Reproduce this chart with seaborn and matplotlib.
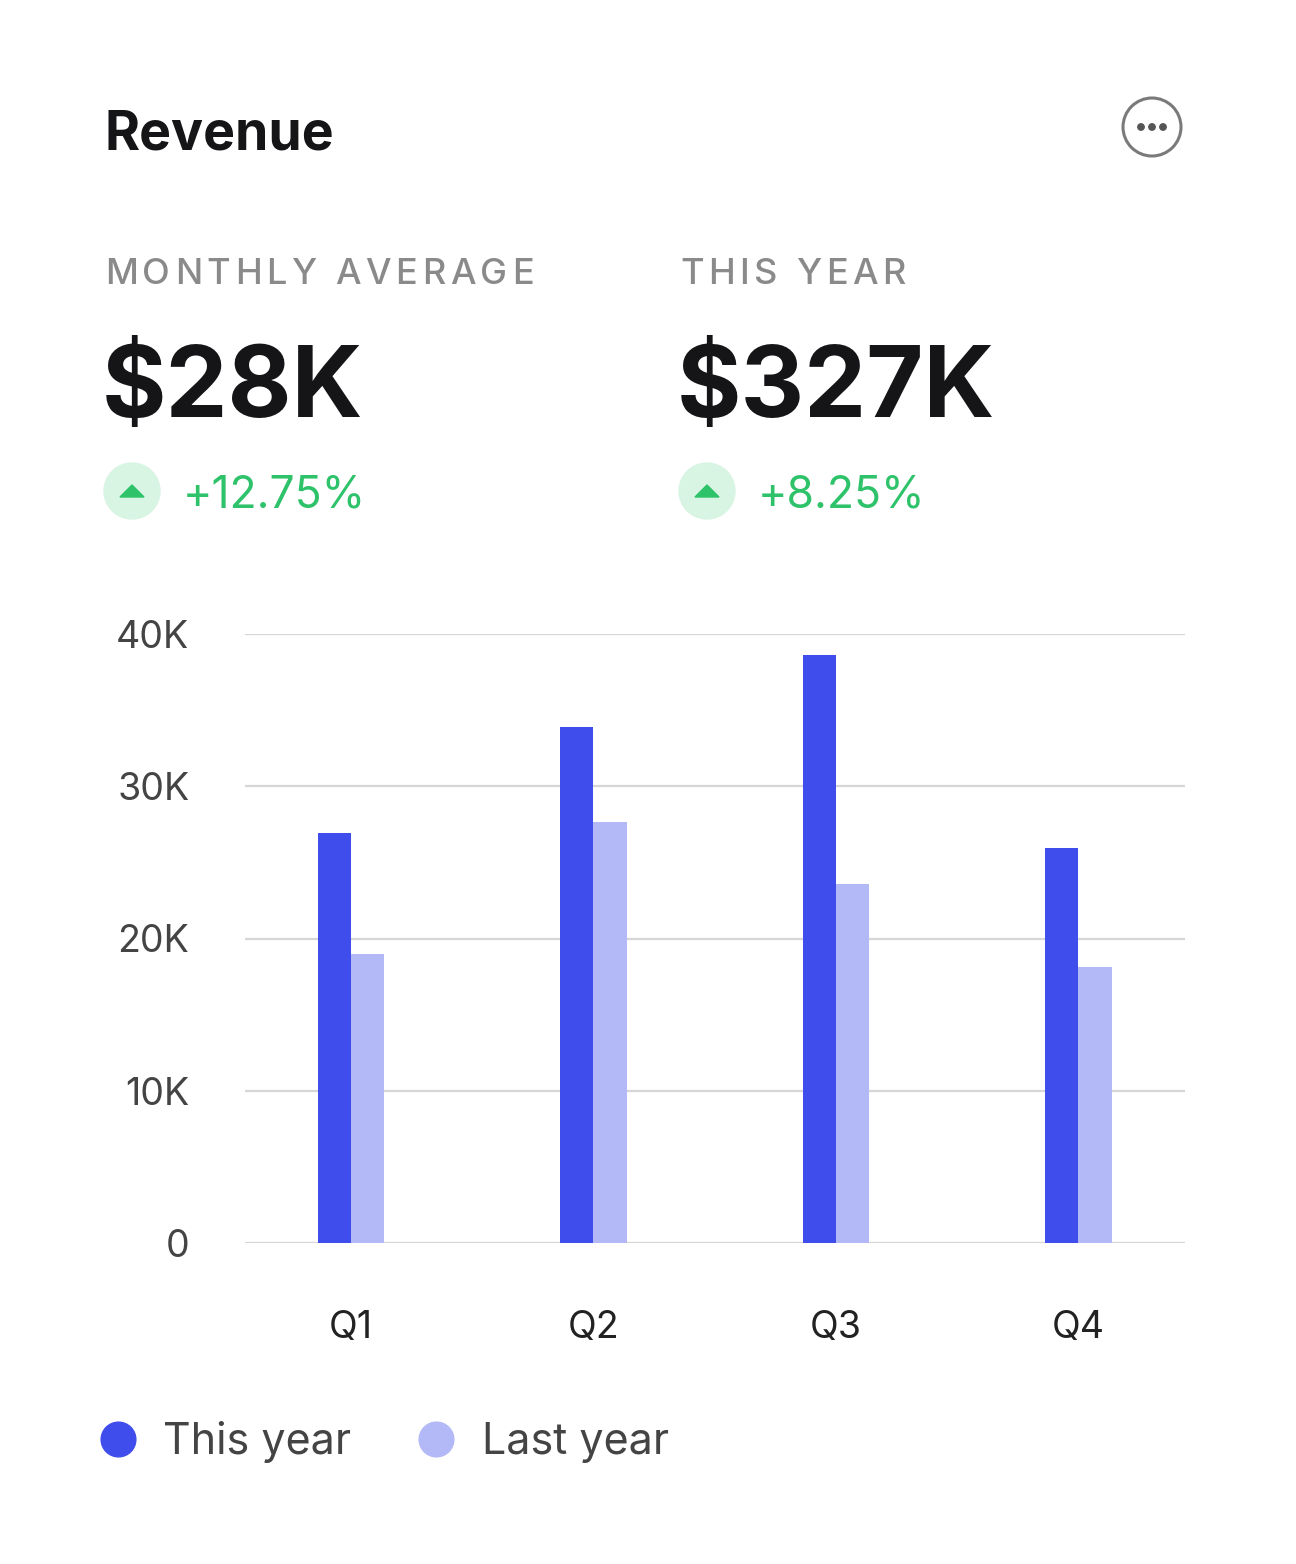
import matplotlib
matplotlib.use("Agg")
import matplotlib.pyplot as plt
from matplotlib.patches import Circle, Polygon
from matplotlib.lines import Line2D
import seaborn as sns
import pandas as pd

# data
quarters = ["Q1", "Q2", "Q3", "Q4"]
this_year = [26900, 33900, 38600, 25950]
last_year = [18950, 27650, 23600, 18100]
series_names = ["This year", "Last year"]
y_ticks = [0, 10000, 20000, 30000, 40000]
y_tick_labels = ["0", "10K", "20K", "30K", "40K"]

DARK = "#3f4ded"
LIGHT = "#b3b8f7"
GREEN = "#2ec26a"

df = pd.DataFrame({
    "Quarter": quarters * 2,
    "Revenue": this_year + last_year,
    "Series": [series_names[0]] * 4 + [series_names[1]] * 4,
})

sns.set_theme(style="white")
plt.rcParams["font.family"] = ["Inter", "DejaVu Sans"]

W, H = 1296, 1564
fig = plt.figure(figsize=(W / 100, H / 100), dpi=100)
renderer = fig.canvas.get_renderer()

# overlay in pixel coordinates for the card header
bg = fig.add_axes([0, 0, 1, 1])
bg.set_xlim(0, W)
bg.set_ylim(H, 0)
bg.axis("off")


def spaced_text(x, y, s, gap, **kw):
    # letter-spaced caption, one glyph at a time
    for ch in s:
        t = bg.text(x, y, ch, va="baseline", **kw)
        w = t.get_window_extent(renderer).width
        x += w + gap


bg.text(105, 149, "Revenue", fontsize=38.5, fontweight="bold", color="#151518", va="baseline")

# menu icon
bg.add_patch(Circle((1152, 127), 29, fill=False, ec="#7a7a7a", lw=2.2))
for dx in (-11, 0, 11):
    bg.add_patch(Circle((1152 + dx, 127), 3.2, color="#555555"))

for x0, label, big, pct in [(105, "MONTHLY AVERAGE", "$28K", "+12.75%"),
                            (680, "THIS YEAR", "$327K", "+8.25%")]:
    spaced_text(x0, 284, label, 4.6, fontsize=26, color="#8a8a8a", fontweight="medium")
    bg.text(x0 - 3, 417, big, fontsize=71, fontweight="bold", color="#151518", va="baseline")
    cx = x0 + 27
    bg.add_patch(Circle((cx, 491), 28, color="#d8f4e2"))
    bg.add_patch(Polygon([(cx - 12, 497), (cx + 12, 497), (cx, 485)], closed=True, color=GREEN))
    bg.text(x0 + 78, 508, pct, fontsize=32, color=GREEN, va="baseline")

# chart
ax = fig.add_axes([245 / W, 1 - 1243 / H, (1185 - 245) / W, (1243 - 634) / H])
sns.barplot(data=df, x="Quarter", y="Revenue", hue="Series",
            palette=[DARK, LIGHT], width=0.275, saturation=1,
            legend=False, ax=ax, zorder=3, linewidth=0)
ax.set_xlim(-0.437, 3.44)
ax.set_ylim(0, 40000)
ax.set_yticks(y_ticks)
ax.set_yticklabels(y_tick_labels)
ax.grid(axis="y", color="#d6d6d6", lw=1.6, zorder=0)
ax.set_axisbelow(True)
for s in ax.spines.values():
    s.set_visible(False)
ax.set_xlabel("")
ax.set_ylabel("")
ax.tick_params(axis="y", length=0, pad=40, labelsize=27, labelcolor="#444444")
ax.tick_params(axis="x", length=0, pad=48, labelsize=27, labelcolor="#222222")
ax.patch.set_alpha(0)

handles = [Line2D([], [], marker="o", ls="", ms=25, color=c, mec=c) for c in (DARK, LIGHT)]
fig.legend(handles, series_names, loc="center left", bbox_to_anchor=(58 / W, 1 - 1442 / H),
           frameon=False, fontsize=31, labelcolor="#444444", handletextpad=0.55,
           columnspacing=1.47, ncol=2, handlelength=1.0)

fig.savefig("out.png", dpi=100, facecolor="white")
